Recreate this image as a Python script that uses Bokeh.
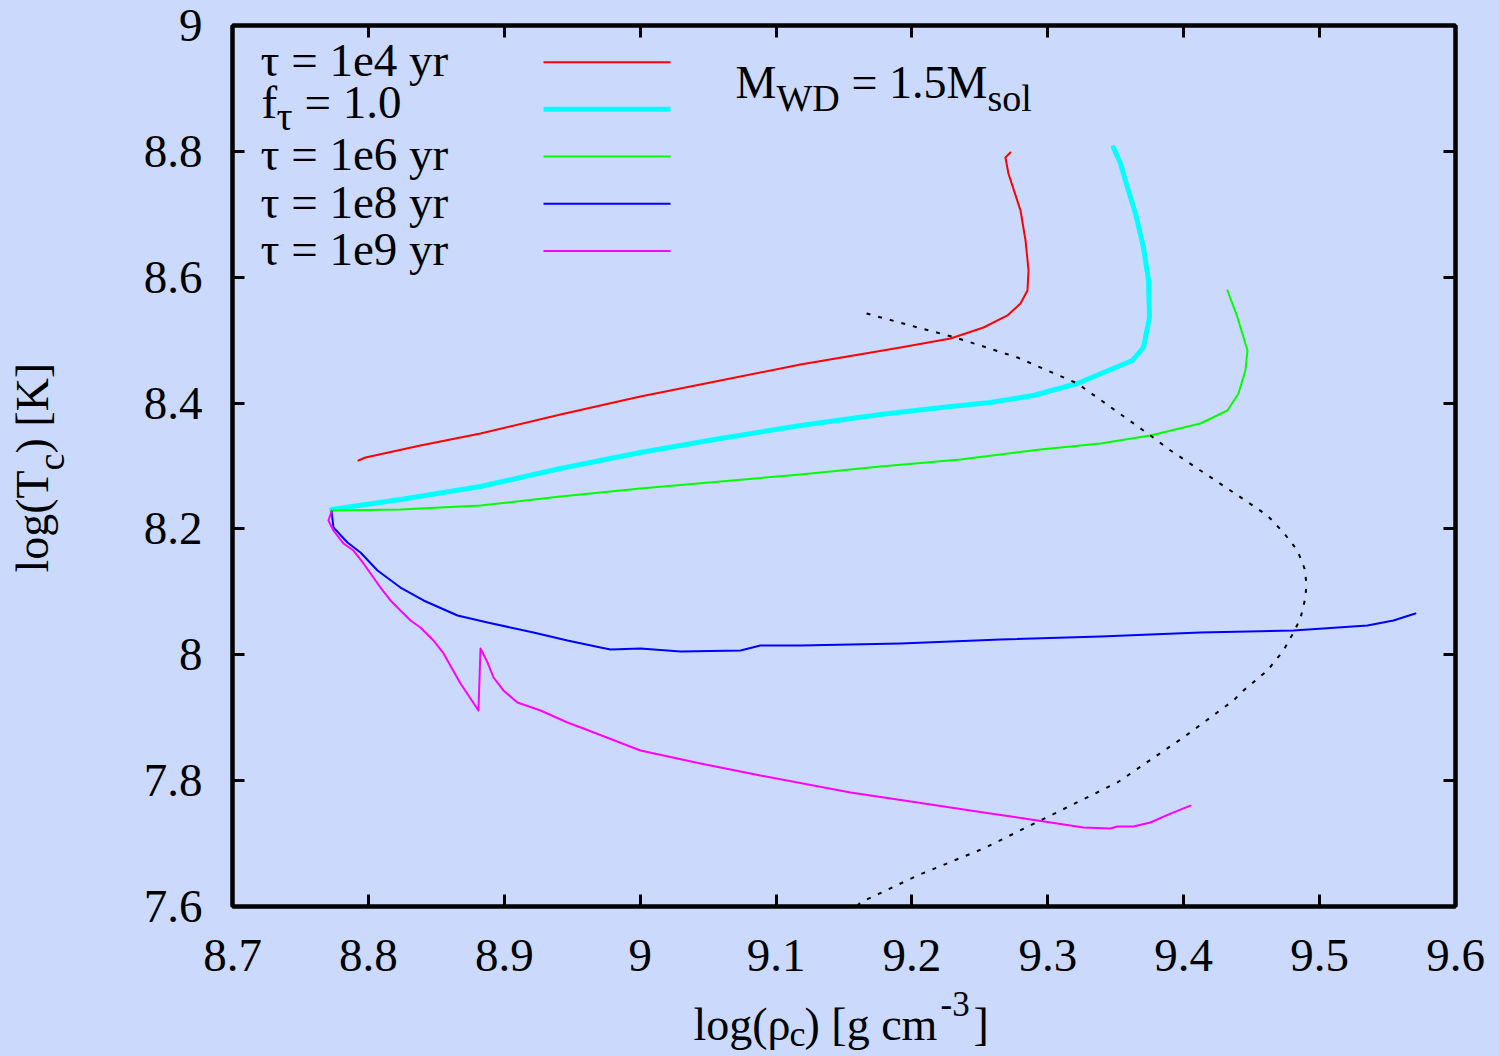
import math
from bokeh.plotting import figure
from bokeh.layouts import row, column
from bokeh.models import Range1d, FixedTicker, LinearAxis, Label
from bokeh.embed import file_html
from bokeh.resources import INLINE

BG = "#cbd9fc"
FONT = "Liberation Serif"

# ---------------- data ----------------
x_ticks = [8.7, 8.8, 8.9, 9.0, 9.1, 9.2, 9.3, 9.4, 9.5, 9.6]
x_tick_labels = ["8.7", "8.8", "8.9", "9", "9.1", "9.2", "9.3", "9.4", "9.5", "9.6"]
y_ticks = [7.6, 7.8, 8.0, 8.2, 8.4, 8.6, 8.8, 9.0]
y_tick_labels = ["7.6", "7.8", "8", "8.2", "8.4", "8.6", "8.8", "9"]

# tau = 1e4 yr
rho_1e4 = [8.7927, 8.7979, 8.8383, 8.8825, 8.9414, 9.0002, 9.0591, 9.1180, 9.1916, 9.2284,
           9.2527, 9.2703, 9.2799, 9.2850, 9.2858, 9.2836, 9.2799, 9.2710, 9.2688, 9.2725]
T_1e4 = [8.3087, 8.3135, 8.3326, 8.3516, 8.3818, 8.4104, 8.4359, 8.4613, 8.4883, 8.5026,
         8.5201, 8.5392, 8.5582, 8.5789, 8.6107, 8.6583, 8.7060, 8.7648, 8.7902, 8.7982]

# f_tau = 1.0
rho_f1 = [8.7729, 8.8236, 8.8825, 8.9414, 9.0002, 9.0591, 9.1180, 9.1769, 9.2284, 9.2578,
          9.2894, 9.3218, 9.3410, 9.3623, 9.3704, 9.3748, 9.3741, 9.3704, 9.3645, 9.3586,
          9.3535, 9.3483]
T_f1 = [8.2309, 8.2468, 8.2674, 8.2960, 8.3215, 8.3437, 8.3644, 8.3818, 8.3946, 8.4009,
        8.4120, 8.4311, 8.4486, 8.4677, 8.4883, 8.5360, 8.5948, 8.6472, 8.7013, 8.7426,
        8.7807, 8.8061]

# tau = 1e6 yr
rho_1e6 = [8.7729, 8.8236, 8.8825, 8.9414, 9.0002, 9.0591, 9.1180, 9.1769, 9.2357, 9.2946,
           9.3388, 9.3755, 9.4123, 9.4322, 9.4403, 9.4454, 9.4469, 9.4396, 9.4322]
T_1e6 = [8.2293, 8.2309, 8.2372, 8.2515, 8.2643, 8.2754, 8.2865, 8.2992, 8.3103, 8.3262,
         8.3358, 8.3485, 8.3675, 8.3882, 8.4152, 8.4518, 8.4835, 8.5360, 8.5789]

# tau = 1e8 yr
rho_1e8 = [8.7729, 8.7743, 8.7846, 8.7942, 8.8067, 8.8236, 8.8406, 8.8656, 8.8877, 8.9215,
           8.9465, 8.9708, 8.9782, 9.0002, 9.0297, 9.0738, 9.0885, 9.1180, 9.1916, 9.2652,
           9.3388, 9.4123, 9.4808, 9.5352, 9.5543, 9.5705]
T_1e8 = [8.2277, 8.2023, 8.1784, 8.1625, 8.1339, 8.1069, 8.0863, 8.0624, 8.0513, 8.0354,
         8.0227, 8.0116, 8.0084, 8.0100, 8.0052, 8.0068, 8.0148, 8.0148, 8.0179, 8.0243,
         8.0291, 8.0354, 8.0386, 8.0465, 8.0545, 8.0656]

# tau = 1e9 yr
rho_1e9 = [8.7729, 8.7706, 8.7743, 8.7817, 8.7890, 8.7964, 8.8016, 8.8089, 8.8163, 8.8236,
           8.8310, 8.8383, 8.8479, 8.8553, 8.8678, 8.8810, 8.8825, 8.8877, 8.8921, 8.8994,
           8.9097, 8.9267, 8.9465, 8.9583, 9.0002, 9.0444, 9.0885, 9.1548, 9.2041, 9.2527,
           9.2924, 9.3262, 9.3461, 9.3512, 9.3630, 9.3755, 9.3903, 9.4050]
T_1e9 = [8.2277, 8.2134, 8.1975, 8.1768, 8.1657, 8.1451, 8.1292, 8.1069, 8.0863, 8.0704,
         8.0545, 8.0434, 8.0227, 8.0021, 7.9544, 7.9115, 8.0100, 7.9877, 7.9639, 7.9433,
         7.9242, 7.9115, 7.8924, 7.8829, 7.8479, 7.8272, 7.8082, 7.7812, 7.7653, 7.7494,
         7.7367, 7.7256, 7.7240, 7.7272, 7.7272, 7.7335, 7.7475, 7.7602]

# dotted boundary curve
rho_dot = [9.1666, 9.1989, 9.2320, 9.2777, 9.3218, 9.3755, 9.3903, 9.4123, 9.4366, 9.4616,
           9.4734, 9.4837, 9.4889, 9.4903, 9.4896, 9.4859, 9.4808, 9.4734, 9.4616, 9.4440,
           9.4366, 9.3998, 9.3512, 9.3020, 9.2527, 9.2041, 9.1621, 9.1592]
T_dot = [8.5423, 8.5233, 8.5042, 8.4724, 8.4311, 8.3485, 8.3246, 8.2929, 8.2579, 8.2213,
         8.1943, 8.1657, 8.1371, 8.1133, 8.0911, 8.0577, 8.0354, 8.0068, 7.9750, 7.9433,
         7.9274, 7.8686, 7.7971, 7.7446, 7.6922, 7.6493, 7.6063, 7.6000]

series = [
    (rho_1e4, T_1e4, "#ff0000", 2),
    (rho_f1, T_f1, "#00ffff", 5),
    (rho_1e6, T_1e6, "#00ff00", 2),
    (rho_1e8, T_1e8, "#0000ff", 2),
    (rho_1e9, T_1e9, "#ff00ff", 2),
]

# ---------------- layout (page pixels) ----------------
PAGE_W, PAGE_H = 1499, 1056
YL_W = 75            # strip on the left for the y-axis title
MAIN_H = 982         # main figure height; x-axis title strip below it
FL, FT, FW, FH = 232, 25, 1223, 881   # frame position in page px
X0, X1, Y0, Y1 = 8.7, 9.6, 7.6, 9.0
SHIFT = 0.385        # baseline correction (fraction of font size)


def dx(px):
    return X0 + (px - FL) / FW * (X1 - X0)


def dy(py):
    return Y1 - (py - FT) / FH * (Y1 - Y0)


p = figure(frame_width=FW, frame_height=FH,
           x_range=Range1d(X0, X1), y_range=Range1d(Y0, Y1),
           output_backend="svg", toolbar_location=None,
           min_border_left=FL - YL_W, min_border_top=FT,
           min_border_right=PAGE_W - FL - FW, min_border_bottom=MAIN_H - FT - FH,
           background_fill_color=BG, border_fill_color=BG,
           outline_line_color="black", outline_line_width=4)
p.grid.visible = False

top_ax = LinearAxis()
right_ax = LinearAxis()
p.add_layout(top_ax, "above")
p.add_layout(right_ax, "right")


def style(ax, ticks, labels, show, standoff):
    ax.ticker = FixedTicker(ticks=ticks)
    ax.major_label_overrides = {t: l for t, l in zip(ticks, labels)}
    ax.major_tick_in = 12
    ax.major_tick_out = 0
    ax.major_tick_line_width = 3
    ax.minor_tick_line_color = None
    ax.axis_line_width = 4
    ax.major_label_text_font = FONT
    if show:
        ax.major_label_text_color = "black"
        ax.major_label_text_font_size = "47px"
        ax.major_label_standoff = standoff
    else:
        ax.major_label_text_color = None
        ax.major_label_text_font_size = "8px"
        ax.major_label_standoff = 0


style(p.below[0], x_ticks, x_tick_labels, True, 33)
style(p.left[0], y_ticks, y_tick_labels, True, 30)
style(top_ax, x_ticks, x_tick_labels, False, 0)
style(right_ax, y_ticks, y_tick_labels, False, 0)

for xs, ys, col, w in series:
    p.line(xs, ys, line_color=col, line_width=w, line_join="round", line_cap="round")

p.line(rho_dot, T_dot, line_color="black", line_width=2, line_dash="4 8")

# legend samples (gnuplot style: text left, line right)
leg_x = [543, 670]
leg_y = [61.7, 108.7, 156, 203.3, 250.5]
for (xs, ys, col, w), yy in zip(series, leg_y):
    p.line([dx(leg_x[0]), dx(leg_x[1])], [dy(yy), dy(yy)], line_color=col, line_width=w)


def txt(fig, s, x, y, size, angle=0.0):
    fig.add_layout(Label(x=x, y=y, text=s, text_font=FONT,
                         text_font_size=f"{size}px", text_color="black",
                         text_align="left", text_baseline="alphabetic",
                         angle=angle, angle_units="rad"))


def main_txt(s, px, py, size):
    txt(p, s, dx(px), dy(py - SHIFT * size), size)


# legend texts
main_txt("τ = 1e4 yr", 260, 78, 47)
main_txt("f", 261, 120, 47)
main_txt("τ", 276, 131, 40)
main_txt("= 1.0", 304, 120, 47)
main_txt("τ = 1e6 yr", 260, 172, 47)
main_txt("τ = 1e8 yr", 260, 220, 47)
main_txt("τ = 1e9 yr", 260, 267, 47)

# annotation
main_txt("M", 735, 100, 46)
main_txt("WD", 776, 112, 38)
main_txt("= 1.5M", 851, 100, 46)
main_txt("sol", 987, 112, 38)

# ---- x axis title strip, below the main figure; its frame lines up with the main frame
XL_H = PAGE_H - MAIN_H
xl = figure(width=PAGE_W - YL_W, height=XL_H,
            x_range=Range1d(X0, X1), y_range=Range1d(XL_H, 0),
            output_backend="svg", toolbar_location=None,
            x_axis_location=None, y_axis_location=None,
            min_border_left=FL - YL_W, min_border_right=PAGE_W - FL - FW,
            min_border_top=0, min_border_bottom=0,
            background_fill_color=BG, border_fill_color=BG, outline_line_color=None)
xl.grid.visible = False


def xl_txt(s, px, py, size):
    txt(xl, s, dx(px), py - MAIN_H - SHIFT * size, size)


xl_txt("log(ρ", 693, 1042, 46)
xl_txt("c", 789, 1047, 36)
xl_txt(") [g cm", 804, 1042, 46)
xl_txt("-3", 940, 1017, 35)
xl_txt("]", 973, 1042, 46)

# ---- y axis title strip, at the left edge
yl = figure(width=YL_W, height=PAGE_H,
            x_range=Range1d(0, YL_W), y_range=Range1d(PAGE_H, 0),
            output_backend="svg", toolbar_location=None,
            x_axis_location=None, y_axis_location=None, min_border=0,
            background_fill_color=BG, border_fill_color=BG, outline_line_color=None)
yl.grid.visible = False


def yl_txt(s, px, py, size):
    txt(yl, s, px - SHIFT * size, py, size, math.pi / 2)


yl_txt("log(T", 50, 572, 46)
yl_txt("c", 65, 470, 38)
yl_txt(") [K]", 50, 453, 46)

layout = row(yl, column(p, xl, spacing=0), spacing=0)

tmpl = "{% block postamble %}<style>html, body { background: " + BG + "; }</style>{% endblock %}"
open("out.html", "w").write(file_html(layout, INLINE, template=tmpl))
